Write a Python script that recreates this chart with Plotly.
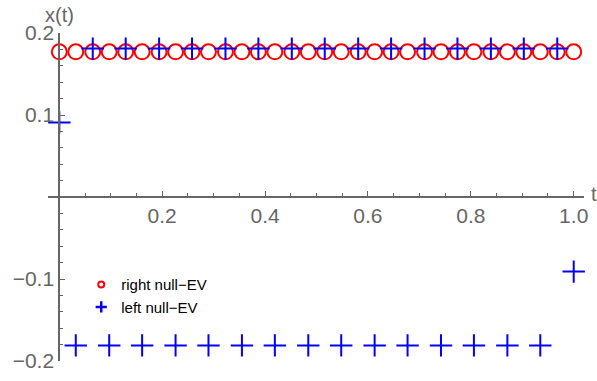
import plotly.graph_objects as go

# grid points t
t = [0.000, 0.032, 0.065, 0.097, 0.129, 0.161, 0.194, 0.226, 0.258, 0.290,
     0.323, 0.355, 0.387, 0.419, 0.452, 0.484, 0.516, 0.548, 0.581, 0.613,
     0.645, 0.677, 0.710, 0.742, 0.774, 0.806, 0.839, 0.871, 0.903, 0.935,
     0.968, 1.000]

right_null = [0.177, 0.177, 0.177, 0.177, 0.177, 0.177, 0.177, 0.177, 0.177, 0.177,
              0.177, 0.177, 0.177, 0.177, 0.177, 0.177, 0.177, 0.177, 0.177, 0.177,
              0.177, 0.177, 0.177, 0.177, 0.177, 0.177, 0.177, 0.177, 0.177, 0.177,
              0.177, 0.177]

left_null = [0.091, -0.181, 0.181, -0.181, 0.181, -0.181, 0.181, -0.181, 0.181, -0.181,
             0.181, -0.181, 0.181, -0.181, 0.181, -0.181, 0.181, -0.181, 0.181, -0.181,
             0.181, -0.181, 0.181, -0.181, 0.181, -0.181, 0.181, -0.181, 0.181, -0.181,
             0.181, -0.091]

x_tickvals = [0.2, 0.4, 0.6, 0.8, 1.0]
x_ticktext = ["0.2", "0.4", "0.6", "0.8", "1.0"]
y_tickvals = [-0.2, -0.1, 0.1, 0.2]
y_ticktext = ["\u22120.2", "\u22120.1", "0.1", "0.2"]
x_minor = [0.05, 0.1, 0.15, 0.25, 0.3, 0.35, 0.45, 0.5, 0.55, 0.65, 0.7, 0.75, 0.85, 0.9, 0.95]
y_minor = [-0.18, -0.16, -0.14, -0.12, -0.08, -0.06, -0.04, -0.02,
           0.02, 0.04, 0.06, 0.08, 0.12, 0.14, 0.16, 0.18]

series_names = ["right null\u2212EV", "left null\u2212EV"]

RED = "#FF0000"
BLUE = "#0000FF"
GRAY = "#666666"

XR = [-0.022, 1.020]
YR = [-0.2, 0.2]
ypos = (0 - XR[0]) / (XR[1] - XR[0])

fig = go.Figure()

fig.add_trace(go.Scatter(
    x=t, y=right_null, mode="markers", showlegend=False, cliponaxis=False,
    marker=dict(symbol="circle-open", size=15, color=RED, line=dict(width=2, color=RED)),
))
fig.add_trace(go.Scatter(
    x=t, y=left_null, mode="markers", showlegend=False, cliponaxis=False,
    marker=dict(symbol="cross-thin", size=16, color=BLUE, line=dict(width=2, color=BLUE)),
))
# legend entries
fig.add_trace(go.Scatter(
    x=[None], y=[None], mode="markers", name=series_names[0],
    marker=dict(symbol="circle-open", size=6, color=RED, line=dict(width=2, color=RED)),
))
fig.add_trace(go.Scatter(
    x=[None], y=[None], mode="markers", name=series_names[1],
    marker=dict(symbol="cross-thin", size=8, color=BLUE, line=dict(width=2.5, color=BLUE)),
))

axis_font = dict(family="Liberation Sans, Arial, sans-serif", size=21, color=GRAY)

fig.update_layout(
    width=597, height=381,
    margin=dict(l=48, r=9, t=33, b=16),
    plot_bgcolor="white", paper_bgcolor="white",
    font=dict(family="Liberation Sans, Arial, sans-serif"),
    xaxis=dict(
        range=XR, anchor="free", position=0.5,
        showline=True, linecolor=GRAY, linewidth=2,
        showgrid=False, zeroline=False,
        tickmode="array", tickvals=x_tickvals, ticktext=x_ticktext,
        ticks="inside", ticklen=5, tickwidth=1, tickcolor=GRAY,
        minor=dict(tickmode="array", tickvals=x_minor, ticks="inside", ticklen=3, tickcolor=GRAY, showgrid=False),
        tickfont=axis_font,
    ),
    yaxis=dict(
        range=YR, anchor="free", position=ypos,
        showline=True, linecolor=GRAY, linewidth=2,
        showgrid=False, zeroline=False,
        tickmode="array", tickvals=y_tickvals, ticktext=y_ticktext,
        ticks="inside", ticklen=5, tickwidth=1, tickcolor=GRAY,
        minor=dict(tickmode="array", tickvals=y_minor, ticks="inside", ticklen=3, tickcolor=GRAY, showgrid=False),
        tickfont=axis_font,
    ),
    legend=dict(
        x=0.062, y=0.283, xanchor="left", yanchor="top",
        bgcolor="rgba(0,0,0,0)", font=dict(size=15, color="black"),
        itemwidth=30, tracegroupgap=0,
    ),
    annotations=[
        dict(text="x(t)", xref="paper", yref="paper", x=ypos, y=1, xanchor="center", yanchor="middle",
             yshift=18, showarrow=False, font=dict(size=20, color=GRAY)),
        dict(text="t", xref="paper", yref="y", x=1, y=0, xanchor="left", yanchor="middle",
             xshift=5, yshift=3, showarrow=False, font=dict(size=20, color=GRAY)),
    ],
)

fig.write_html("out.html")
